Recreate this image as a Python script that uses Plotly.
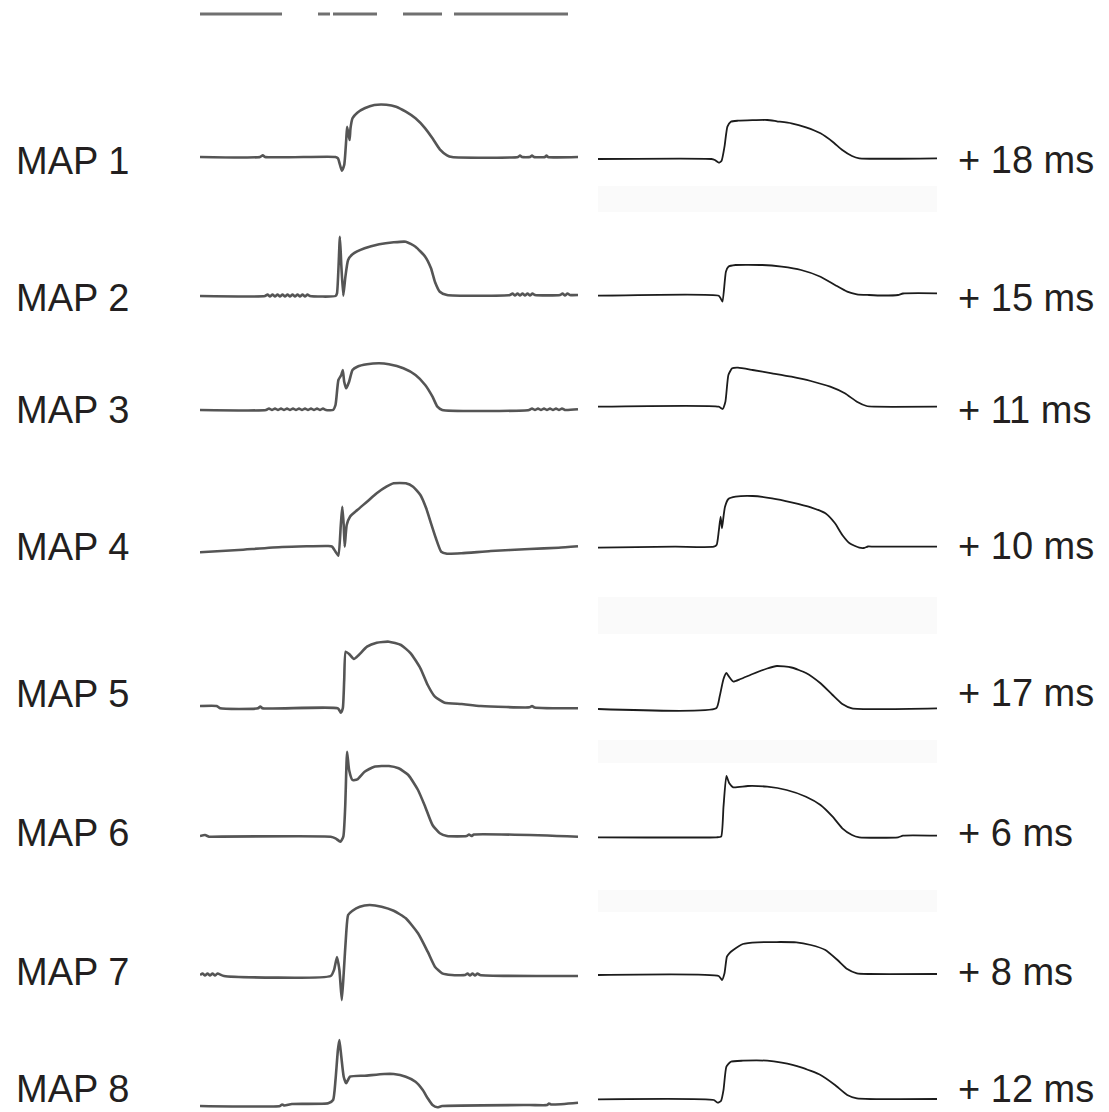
import plotly.graph_objects as go

# ---------------- DATA (time position, amplitude) ----------------
map_labels = ["MAP 1", "MAP 2", "MAP 3", "MAP 4", "MAP 5", "MAP 6", "MAP 7", "MAP 8"]
delay_labels = ["+ 18 ms", "+ 15 ms", "+ 11 ms", "+ 10 ms", "+ 17 ms", "+ 6 ms", "+ 8 ms", "+ 12 ms"]

# MAP 1
map1_t_left = [0, 60, 62.8, 65, 135.5, 138, 141.8, 144.2, 146.2, 147.1, 148.6, 149.6, 150.5, 152.5, 157.3, 164.6, 174.3, 186.4, 196.1, 205.8, 215.5, 225.2, 232.5, 239.8, 247, 252, 318, 320, 322, 330, 332, 334, 345, 346.5, 348, 378]
map1_v_left = [0, 0, 1.7, 0, 0, -1.3, -13.7, -8, 17, 30.3, 22, 17, 28.7, 38.7, 44.3, 48.7, 52, 52.3, 50.3, 45.3, 38.7, 28.7, 18.7, 7.7, 1.7, 0, 0, 1.5, 0, 0, 1.5, 0, 0, 1.5, 0, 0]
map1_t_right = [0, 113.4, 116.8, 120.7, 123.6, 126.5, 129.4, 132.8, 140, 169.2, 178.9, 193.4, 208, 222.5, 234.6, 244.3, 254, 261.3, 339]
map1_v_right = [-2, -2, -3, -5.7, -3.7, 10.3, 30.3, 35.3, 36.3, 37, 35.7, 33.7, 29.7, 23.7, 15.3, 7, 1, -1.3, -1.3]

# MAP 2
map2_t_left = [0, 65, 67.5, 70, 72.5, 75, 77.5, 80, 82.5, 85, 87.5, 90, 92.5, 95, 97.5, 100, 102.5, 105, 107.5, 110,
               135.5, 137, 139.9, 141.3, 143.3, 145.2, 148.1, 152.5, 164.6, 179.2, 193.7, 205.8, 215.5, 225.2, 231, 234.9, 239.8, 247,
               310, 312.5, 315, 317.5, 320, 322.5, 325, 327.5, 330, 332.5, 335, 360, 362.5, 365, 367.5, 370, 378]
map2_v_left = [0, 0, 1.5, -0.5, 1.5, -0.5, 1.5, -0.5, 1.5, -0.5, 1.5, -0.5, 1.5, -0.5, 1.5, -0.5, 1.5, -0.5, 1.5, 0,
               0, 2.7, 59.3, 31, 0.3, 17.7, 36, 41.7, 47.7, 51.7, 53.7, 54.3, 49.3, 39.3, 27.7, 14.3, 4.3, 1,
               1, 2.5, 0.5, 2.5, 0.5, 2.5, 0.5, 2.5, 0.5, 2.5, 1, 1, 2.5, 0.5, 2.5, 1, 1]
map2_t_right = [0, 120.7, 122.6, 124.5, 127.9, 130.4, 137.6, 164.3, 183.7, 203.1, 222.5, 237, 249.2, 258.9, 271, 285, 300, 305, 339]
map2_v_right = [0.3, 0.3, -2.3, -5.7, 24.3, 29.3, 31, 31, 29.3, 26, 19.3, 11, 4.3, 1.7, 1, 0.5, 1, 2.5, 2.7]

# MAP 3
map3_t_left = [0, 66, 69, 72, 75, 78, 81, 84, 87, 90, 93, 96, 99, 102, 105, 108, 111, 114, 117, 120, 123, 126,
               133, 135.5, 138.4, 141.3, 142.8, 144.2, 146.2, 149.1, 152.5, 157.3, 167, 179.2, 188.9, 203.4, 215.5, 225.2, 232.5, 237.4, 242.2,
               329, 332, 335, 338, 341, 344, 347, 350, 353, 356, 359, 362, 365, 378]
map3_v_left = [0, 0, 1.5, 0, 1.5, 0, 1.5, 0, 1.5, 0, 1.5, 0, 1.5, 0, 1.5, 0, 1.5, 0, 1.5, 0, 1.5, 0,
               0, 5, 30, 35, 40, 28.3, 21.7, 28.3, 40, 43.3, 45.7, 46.7, 45.7, 41.7, 35, 25, 13.3, 3.3, 0,
               0, 1.5, 0, 1.5, 0, 1.5, 0, 1.5, 0, 1.5, 0, 1.5, 0, 0.7]
map3_t_right = [0, 120.7, 124.5, 127.4, 130.4, 134.2, 140, 154.6, 174, 193.4, 212.8, 232.2, 246.8, 258.9, 268.6, 275.9, 339]
map3_v_right = [3.3, 3.3, 1, 8.3, 35, 41.7, 42.3, 40, 36.7, 33.3, 29, 23.3, 16.7, 8.3, 4, 3.3, 3.3]

# MAP 4
map4_t_left = [0, 38.5, 82.2, 128.2, 132.1, 135.5, 138.4, 140.8, 142.3, 143.7, 144.7, 146.7, 150, 157.3, 167, 176.7, 186.4, 193.7, 205.8, 213.1, 220.4, 226.2, 231, 235.9, 241.2, 247, 261.6, 290.7, 329.5, 358.6, 378]
map4_v_left = [-4.3, -2, 1, 2, 1.3, -3.7, -7.7, 23, 41.3, 23, 1.3, 23, 31.3, 38, 46.3, 54.7, 61.3, 64.7, 64.7, 61.3, 53, 39.7, 24.7, 9.7, -3.7, -5.7, -5.3, -3, -1, 0.3, 1.7]
map4_t_right = [0, 77, 115.8, 118.7, 120.7, 122.6, 124, 125.5, 127, 130.4, 137.6, 154.6, 174, 193.4, 212.8, 227.4, 237, 244.3, 251.6, 261.3, 266, 270, 275.9, 339]
map4_v_right = [0.3, 1.3, 1.3, 3.3, 16.3, 31.3, 19.7, 31.3, 41.3, 49, 51.3, 52, 49.7, 45.7, 40.7, 34.7, 24.7, 13, 4.7, 0.3, 0, 1.5, 1.3, 1.3]

# MAP 5
map5_t_left = [0, 16.7, 20.1, 58, 60.3, 62.5, 137.9, 140.8, 142.8, 144.2, 145.7, 149.1, 153.9, 158.8, 167, 176.7, 188.9, 201, 210.7, 220.4, 227.7, 234.9, 244.6, 261.6, 280.8, 329.5, 332, 334.5, 378]
map5_v_left = [1, 1, -1.3, -1.3, 0.5, -1.3, -1.3, -5.7, -1.3, 27, 55.3, 53, 48, 52, 60.3, 64.3, 65.3, 62, 53.7, 38.7, 22, 10.3, 4.3, 3, 1, -0.3, 1, -0.5, -1.3]
map5_t_right = [0, 118.2, 121.6, 125.5, 128.4, 131.3, 135.2, 142.5, 154.6, 169.2, 178.9, 193.4, 208, 222.5, 234.6, 244.3, 254, 339]
map5_v_right = [-2, -1.3, 10.3, 28, 34, 30, 25.5, 28, 33, 38.5, 41, 39.5, 34, 23.7, 12, 3, -1.3, -1.3]

# MAP 6
map6_t_left = [0, 5, 9, 11.8, 130.7, 135.5, 140.4, 143.3, 145.2, 147.1, 149.1, 152.5, 157.3, 164.6, 174.3, 188.9, 198.6, 208.3, 218, 225.2, 232.5, 239.8, 247, 266.5, 269, 271.5, 274, 378]
map6_v_left = [-1, 0, -1.7, -1.7, -1.7, -3.3, -6.7, -1.7, 28.3, 83.3, 65, 55, 55.7, 63.3, 68.3, 69, 66.7, 60, 45, 28.3, 10, 1.7, -1, -1, 0.5, -1, 0.5, -1.7]
map6_t_right = [0, 118.2, 123.1, 125.5, 128.4, 131.3, 135.2, 149.8, 169.2, 188.6, 208, 222.5, 234.6, 244.3, 254, 261.3, 300.1, 305, 339]
map6_v_right = [-2.3, -2.3, -1.7, 28.3, 59, 51.7, 47.7, 49, 48.3, 45, 38.3, 30, 18.3, 6.7, 0, -2.3, -2.3, -0.7, -0.7]

# MAP 7
map7_t_left = [0, 2.5, 5, 7.5, 10, 12.5, 15, 17.5, 24, 130.7, 134, 137, 139.4, 141.8, 143.7, 146.2, 148.1, 152.5, 159.8, 169.5, 181.6, 193.7, 205.8, 218, 227.7, 234.9, 242.2, 251.9, 265, 267.5, 270, 272.5, 275, 277.5, 280, 378]
map7_v_left = [0, 1.5, -0.5, 1.5, -0.5, 1.5, -0.5, 1.5, -1, -1, 5, 18, 5, -25, 1.7, 41.7, 60, 64.3, 68.3, 70, 68.3, 64.3, 56.7, 41.7, 23.3, 8.3, 1.7, 0, 0, 1.5, -0.5, 1.5, -0.5, 1.5, 0, -1]
map7_t_right = [0, 120.7, 124, 126.5, 128.9, 131.3, 135.2, 144.9, 159.5, 198.3, 212.8, 227.4, 239.5, 249.2, 258.9, 271, 339]
map7_v_right = [0, -1, -5, 1.7, 18.3, 21.7, 25, 31, 32.7, 32.7, 30, 25, 15, 6, 1.7, 1, 1]

# MAP 8
map8_t_left = [0, 80, 82.2, 84.5, 91.9, 128.2, 133.1, 135.5, 137.9, 139.4, 141.3, 143.7, 146.2, 150, 164.6, 184, 193.7, 205.8, 215.5, 222.8, 227.7, 232.5, 237.4, 242.2, 329.5, 347, 349, 351, 378]
map8_v_left = [-1, -1, 0.5, -0.5, 1, 1.7, 5, 25, 55, 65, 48.3, 28.3, 21.7, 28.3, 29.3, 31, 31, 28.3, 23.3, 15, 6.7, 0, -2.3, -1, 0, 0, 1.5, 0.5, 2.3]
map8_t_right = [0, 115.8, 119.7, 123.1, 125.5, 128.4, 132.8, 144.9, 169.2, 183.7, 203.1, 222.5, 237, 249.2, 258.9, 339]
map8_v_right = [5.7, 5, 2.3, 4.3, 15, 38.3, 43.3, 44.3, 44.3, 42.3, 37.7, 30, 20, 10, 6.7, 6]

# fragment of a trace cut off at the top of the scan
top_t = [0, 82, None, 118, 130, None, 133, 177, None, 203, 242, None, 254, 368]
top_v = [0, 0, None, 0, 0, None, 0, 0, None, 0, 0, None, 0, 0]

left_t = [map1_t_left, map2_t_left, map3_t_left, map4_t_left, map5_t_left, map6_t_left, map7_t_left, map8_t_left]
left_v = [map1_v_left, map2_v_left, map3_v_left, map4_v_left, map5_v_left, map6_v_left, map7_v_left, map8_v_left]
right_t = [map1_t_right, map2_t_right, map3_t_right, map4_t_right, map5_t_right, map6_t_right, map7_t_right, map8_t_right]
right_v = [map1_v_right, map2_v_right, map3_v_right, map4_v_right, map5_v_right, map6_v_right, map7_v_right, map8_v_right]

for a, b in zip(left_t + right_t, left_v + right_v):
    assert len(a) == len(b), (len(a), len(b))

# ---------------- LAYOUT constants (pixels) ----------------
W, H = 1109, 1112
LEFT_X = (200, 580)
RIGHT_X = (598, 940)
BASELINES = [157, 296, 410, 548, 707, 835, 975, 1105]
LABEL_Y_LEFT = [161, 298, 410, 547, 694, 833, 972, 1089]
LABEL_Y_RIGHT = [160, 298, 410, 546, 693, 833, 972, 1089]
UP = 90
LEFT_COLOR, LEFT_WIDTH = "#555555", 2.6
RIGHT_COLOR, RIGHT_WIDTH = "#1c1c1c", 1.8
TEXT_COLOR = "#231f20"
FONT = "Liberation Sans, Arial, Helvetica, sans-serif"
FONT_SIZE = 38

fig = go.Figure()
layout_axes = {}
k = 0
for i, base in enumerate(BASELINES):
    lo = min(40, H - base)
    ydom = [1 - (base + lo) / H, 1 - (base - UP) / H]
    for (x0, x1), ts, vs, color, width in (
        (LEFT_X, left_t[i], left_v[i], LEFT_COLOR, LEFT_WIDTH),
        (RIGHT_X, right_t[i], right_v[i], RIGHT_COLOR, RIGHT_WIDTH),
    ):
        k += 1
        sfx = "" if k == 1 else str(k)
        fig.add_trace(go.Scatter(x=ts, y=vs, mode="lines", xaxis="x" + sfx, yaxis="y" + sfx,
                                 line=dict(color=color, width=width, shape="spline", smoothing=0.5),
                                 hoverinfo="skip", showlegend=False))
        layout_axes["xaxis" + sfx] = dict(domain=[x0 / W, x1 / W], range=[0, x1 - x0], visible=False,
                                          fixedrange=True, anchor="y" + sfx)
        layout_axes["yaxis" + sfx] = dict(domain=ydom, range=[-lo, UP], visible=False,
                                          fixedrange=True, anchor="x" + sfx)

# top fragment
k += 1
sfx = str(k)
fig.add_trace(go.Scatter(x=top_t, y=top_v, mode="lines", xaxis="x" + sfx, yaxis="y" + sfx,
                         line=dict(color="#707070", width=3), hoverinfo="skip", showlegend=False))
layout_axes["xaxis" + sfx] = dict(domain=[LEFT_X[0] / W, LEFT_X[1] / W], range=[0, LEFT_X[1] - LEFT_X[0]],
                                  visible=False, fixedrange=True, anchor="y" + sfx)
layout_axes["yaxis" + sfx] = dict(domain=[1 - 30 / H, 1.0], range=[-16, 14], visible=False,
                                  fixedrange=True, anchor="x" + sfx)

annotations = []
for lab, y in zip(map_labels, LABEL_Y_LEFT):
    annotations.append(dict(text=lab, x=15 / W, y=1 - y / H, xref="paper", yref="paper",
                            xanchor="left", yanchor="middle", showarrow=False, borderpad=0,
                            font=dict(family=FONT, size=FONT_SIZE, color=TEXT_COLOR)))
for lab, y in zip(delay_labels, LABEL_Y_RIGHT):
    annotations.append(dict(text=lab, x=957 / W, y=1 - y / H, xref="paper", yref="paper",
                            xanchor="left", yanchor="middle", showarrow=False, borderpad=0,
                            font=dict(family=FONT, size=FONT_SIZE, color=TEXT_COLOR)))

# very faint scan background bands in the right column
shapes = []
for y0, y1 in [(186, 212), (597, 634), (740, 763), (890, 912)]:
    shapes.append(dict(type="rect", xref="paper", yref="paper", x0=RIGHT_X[0] / W, x1=937 / W,
                       y0=1 - y1 / H, y1=1 - y0 / H, fillcolor="#fafafa", line=dict(width=0), layer="below"))

fig.update_layout(width=W, height=H, margin=dict(l=0, r=0, t=0, b=0),
                  paper_bgcolor="white", plot_bgcolor="rgba(0,0,0,0)",
                  annotations=annotations, shapes=shapes, **layout_axes)

fig.write_html("out.html", config={"displayModeBar": False})
